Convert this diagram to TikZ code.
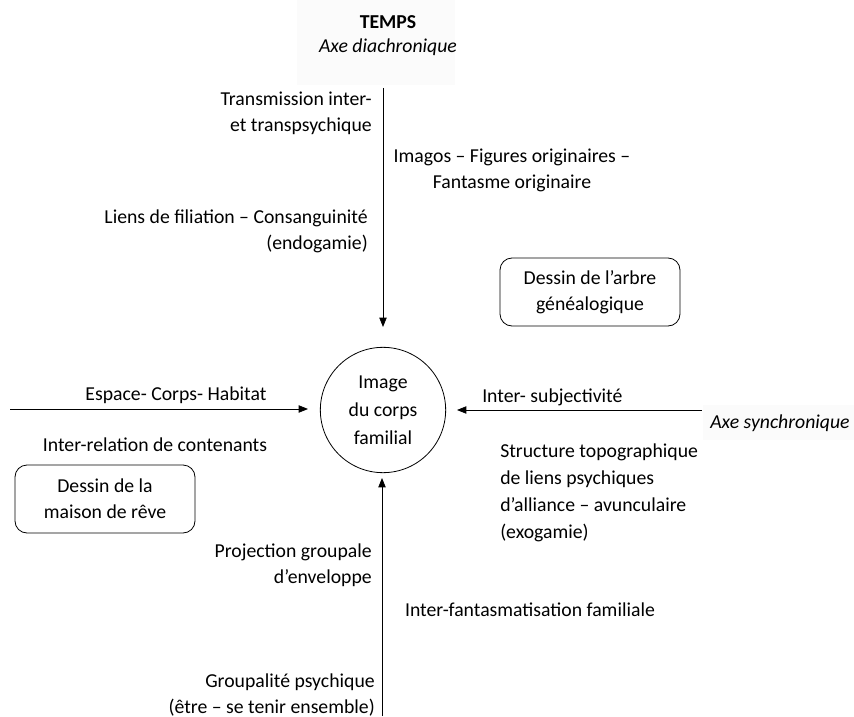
\documentclass[tikz,border=0pt]{standalone}
\usepackage{fontspec}
\setmainfont{Carlito}
\usetikzlibrary{arrows.meta}
\begin{document}
\begin{tikzpicture}[x=0.75pt,y=-0.75pt,
  every node/.style={font=\fontsize{14.8}{19.5}\selectfont, inner sep=0pt},
  arr/.style={-{Triangle[length=7pt,width=5.5pt]}, line width=0.6pt},
  boxnode/.style={draw, rounded corners=9pt, line width=0.6pt, minimum width=135pt, minimum height=51pt, align=center},
  bg/.style={fill=black!1.5, draw=none}]
\useasboundingbox (0,0) rectangle (854,717);
\fill[bg] (297,0) rectangle (455,85);
\fill[bg] (703,405) rectangle (854,440);
\node[font=\fontsize{14.8}{19.5}\selectfont\bfseries] (temps) at (388,22) {TEMPS};
\node[font=\fontsize{14.8}{19.5}\selectfont\itshape] (diach) at (388,47) {Axe diachronique};
\node[draw, circle, line width=0.6pt, minimum size=94pt, align=center, font=\fontsize{14.8}{21}\selectfont] (c) at (383,410) {Image\\du corps\\familial};
\coordinate (top) at (383,88);
\coordinate (bot) at (382,716);
\coordinate (left) at (10,409);
\coordinate (right) at (702,410);
\draw[arr] (top) -- (c.north |- 0,327);
\draw[arr] (bot) -- (382,478);
\draw[arr] (left) -- (308,409);
\draw[arr] (right) -- (457,410);
\node[anchor=east, align=right] (t1) at (372,113) {Transmission inter-\\et transpsychique};
\node[align=center] (t2) at (512,170) {Imagos – Figures originaires –\\Fantasme originaire};
\node[anchor=east, align=right] (t3) at (368,231) {Liens de filiation – Consanguinité\\(endogamie)};
\node[boxnode] (arbre) at (590,292) {Dessin de l’arbre\\généalogique};
\node (t4) at (176,395) {Espace- Corps- Habitat};
\node (t5) at (155,445) {Inter-relation de contenants};
\node[boxnode] (maison) at (105,499) {Dessin de la\\maison de rêve};
\node[anchor=west] (t6) at (482,397) {Inter- subjectivité};
\node[anchor=west, font=\fontsize{14.8}{19.5}\selectfont\itshape] (synch) at (710,423) {Axe synchronique};
\node[anchor=west, align=left, font=\fontsize{14.8}{20.2}\selectfont] (t7) at (500,493) {Structure topographique\\de liens psychiques\\d’alliance – avunculaire\\(exogamie)};
\node[anchor=east, align=right] (t8) at (372,565) {Projection groupale\\d’enveloppe\ };
\node (t9) at (530,610) {Inter-fantasmatisation familiale};
\node[anchor=east, align=right] (t10) at (375,695) {Groupalité psychique\\(être – se tenir ensemble)};
\end{tikzpicture}
\end{document}
